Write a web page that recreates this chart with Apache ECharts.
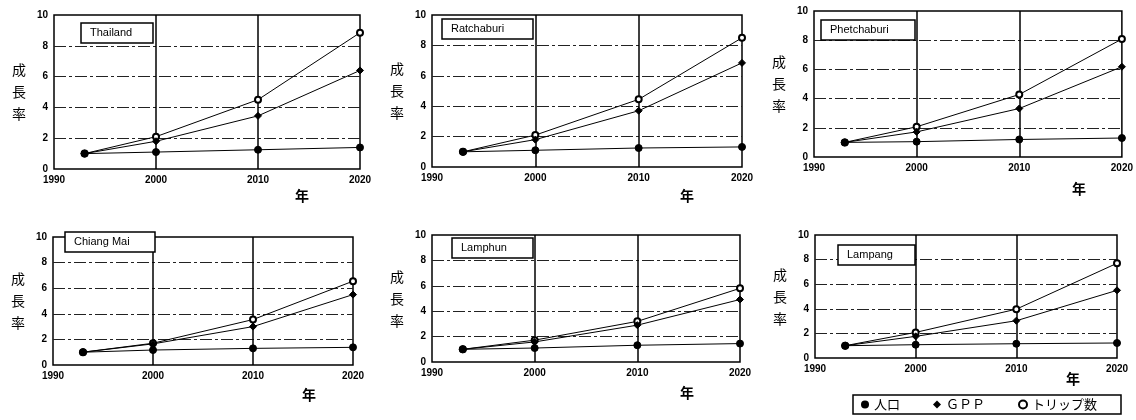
<!DOCTYPE html>
<html>
<head>
<meta charset="utf-8">
<script src="https://cdn.jsdelivr.net/npm/echarts@6/dist/echarts.min.js"></script>
<style>
  html, body { margin: 0; padding: 0; background: #fff; }
  #main { width: 1136px; height: 420px; }
</style>
</head>
<body>
<div id="main"></div>
<script>
// 数据
const years = [1993, 2000, 2010, 2020];
const regions = ['Thailand', 'Ratchaburi', 'Phetchaburi', 'Chiang Mai', 'Lamphun', 'Lampang'];
const seriesNames = ['人口', 'ＧＰＰ', 'トリップ数'];
const popValues = [
    [1, 1.1, 1.25, 1.4],
    [1, 1.1, 1.25, 1.32],
    [1, 1.05, 1.2, 1.3],
    [1, 1.17, 1.3, 1.38],
    [1, 1.1, 1.32, 1.45],
    [1, 1.08, 1.16, 1.22]
];
const gppValues = [
    [1, 1.8, 3.45, 6.4],
    [1, 1.8, 3.7, 6.85],
    [1, 1.72, 3.32, 6.18],
    [1, 1.65, 3.0, 5.5],
    [1, 1.58, 2.9, 4.92],
    [1, 1.76, 3.03, 5.5]
];
const tripValues = [
    [1, 2.1, 4.5, 8.85],
    [1, 2.1, 4.45, 8.5],
    [1, 2.07, 4.28, 8.08],
    [1, 1.7, 3.55, 6.55],
    [1, 1.72, 3.2, 5.8],
    [1, 2.08, 3.97, 7.7]
];

// 各パネルの位置
const grids = [
    { left: 54, top: 15, width: 306, height: 154 },
    { left: 432, top: 15, width: 310, height: 152 },
    { left: 814, top: 11, width: 308, height: 146 },
    { left: 53, top: 237, width: 300, height: 128 },
    { left: 432, top: 235, width: 308, height: 127 },
    { left: 815, top: 235, width: 302, height: 123 }
];
// 地域名ボックス [left, top, width]
const labelBoxes = [
    [81, 23, 72], [442, 19, 91], [821, 20, 94],
    [65, 232, 90], [452, 238, 81], [838, 245, 77]
];
// 「年」の位置 [left, top]
const nenPos = [[295, 189], [680, 189], [1072, 182], [302, 388], [680, 386], [1066, 372]];

const tickFont = { color: '#000', fontSize: 10, fontWeight: 'bold', fontFamily: 'Liberation Sans' };
const jpFont = 'Noto Sans CJK JP';

(function () {
    let myChart = echarts.init(document.getElementById('main'));

    let toPairs = arr => years.map((y, i) => [y, arr[i]]);

    let title = [];
    let xAxis = [];
    let yAxis = [];
    let series = [];

    grids.forEach((g, k) => {
        let b = labelBoxes[k];
        title.push({
            text: regions[k],
            left: b[0], top: b[1],
            padding: [4, 9],
            borderColor: '#000', borderWidth: 1.5,
            backgroundColor: '#fff',
            textStyle: { fontSize: 11, fontWeight: 'normal', fontFamily: 'Liberation Sans', color: '#000', width: b[2] - 18, lineHeight: 12 }
        });
        title.push({
            text: '年',
            left: nenPos[k][0], top: nenPos[k][1],
            padding: 0,
            textStyle: { fontSize: 14, fontWeight: 'bold', fontFamily: jpFont, color: '#000' }
        });
        xAxis.push({
            type: 'value', gridIndex: k,
            min: 1990, max: 2020, interval: 10,
            axisLine: { show: false },
            axisTick: { show: false },
            axisLabel: Object.assign({ margin: 6, formatter: v => String(v) }, tickFont),
            splitLine: { show: true, showMinLine: false, showMaxLine: false, lineStyle: { color: '#000', width: 1.5, type: 'solid' } }
        });
        yAxis.push({
            type: 'value', gridIndex: k,
            min: 0, max: 10, interval: 2,
            name: '成\n長\n率',
            nameLocation: 'middle', nameRotate: 0, nameGap: 28,
            nameTextStyle: { fontSize: 14, fontFamily: jpFont, color: '#000', lineHeight: 22, padding: [16, 0, 0, 0] },
            axisLine: { show: false },
            axisTick: { show: false },
            axisLabel: Object.assign({ margin: 6 }, tickFont),
            splitLine: { show: true, showMinLine: false, showMaxLine: false, lineStyle: { color: '#222', width: 1, type: [12, 3, 3, 3] } }
        });
        let common = {
            type: 'line', xAxisIndex: k, yAxisIndex: k,
            showAllSymbol: true, clip: false,
            lineStyle: { color: '#000', width: 1 },
            itemStyle: { color: '#000', borderColor: '#000' }
        };
        // トリップ数を先に描き、人口を一番上に
        series.push(Object.assign({}, common, { name: seriesNames[2], symbol: 'emptyCircle', symbolSize: 6, itemStyle: { color: '#000', borderWidth: 1.5 }, data: toPairs(tripValues[k]) }));
        series.push(Object.assign({}, common, { name: seriesNames[1], symbol: 'diamond', symbolSize: 7, data: toPairs(gppValues[k]) }));
        series.push(Object.assign({}, common, { name: seriesNames[0], symbol: 'circle', symbolSize: 7, data: toPairs(popValues[k]) }));
    });

    let option = {
        backgroundColor: '#fff',
        animation: false,
        title: title,
        grid: grids.map(g => Object.assign({ show: true, borderColor: '#000', borderWidth: 1.5, backgroundColor: 'transparent' }, g)),
        xAxis: xAxis,
        yAxis: yAxis,
        legend: {
            left: 853, top: 395,
            padding: [3, 24, 3, 8],
            borderColor: '#000', borderWidth: 1.5,
            itemWidth: 8, itemHeight: 8, itemGap: 33,
            textStyle: { fontSize: 13, fontFamily: jpFont, color: '#000' },
            data: [
                { name: seriesNames[0], icon: 'circle' },
                { name: seriesNames[1], icon: 'diamond' },
                { name: seriesNames[2], icon: 'emptyCircle' }
            ]
        },
        series: series
    };
    myChart.setOption(option);

    window.addEventListener('resize', function () {
        myChart.resize();
    })
})();
</script>
</body>
</html>
